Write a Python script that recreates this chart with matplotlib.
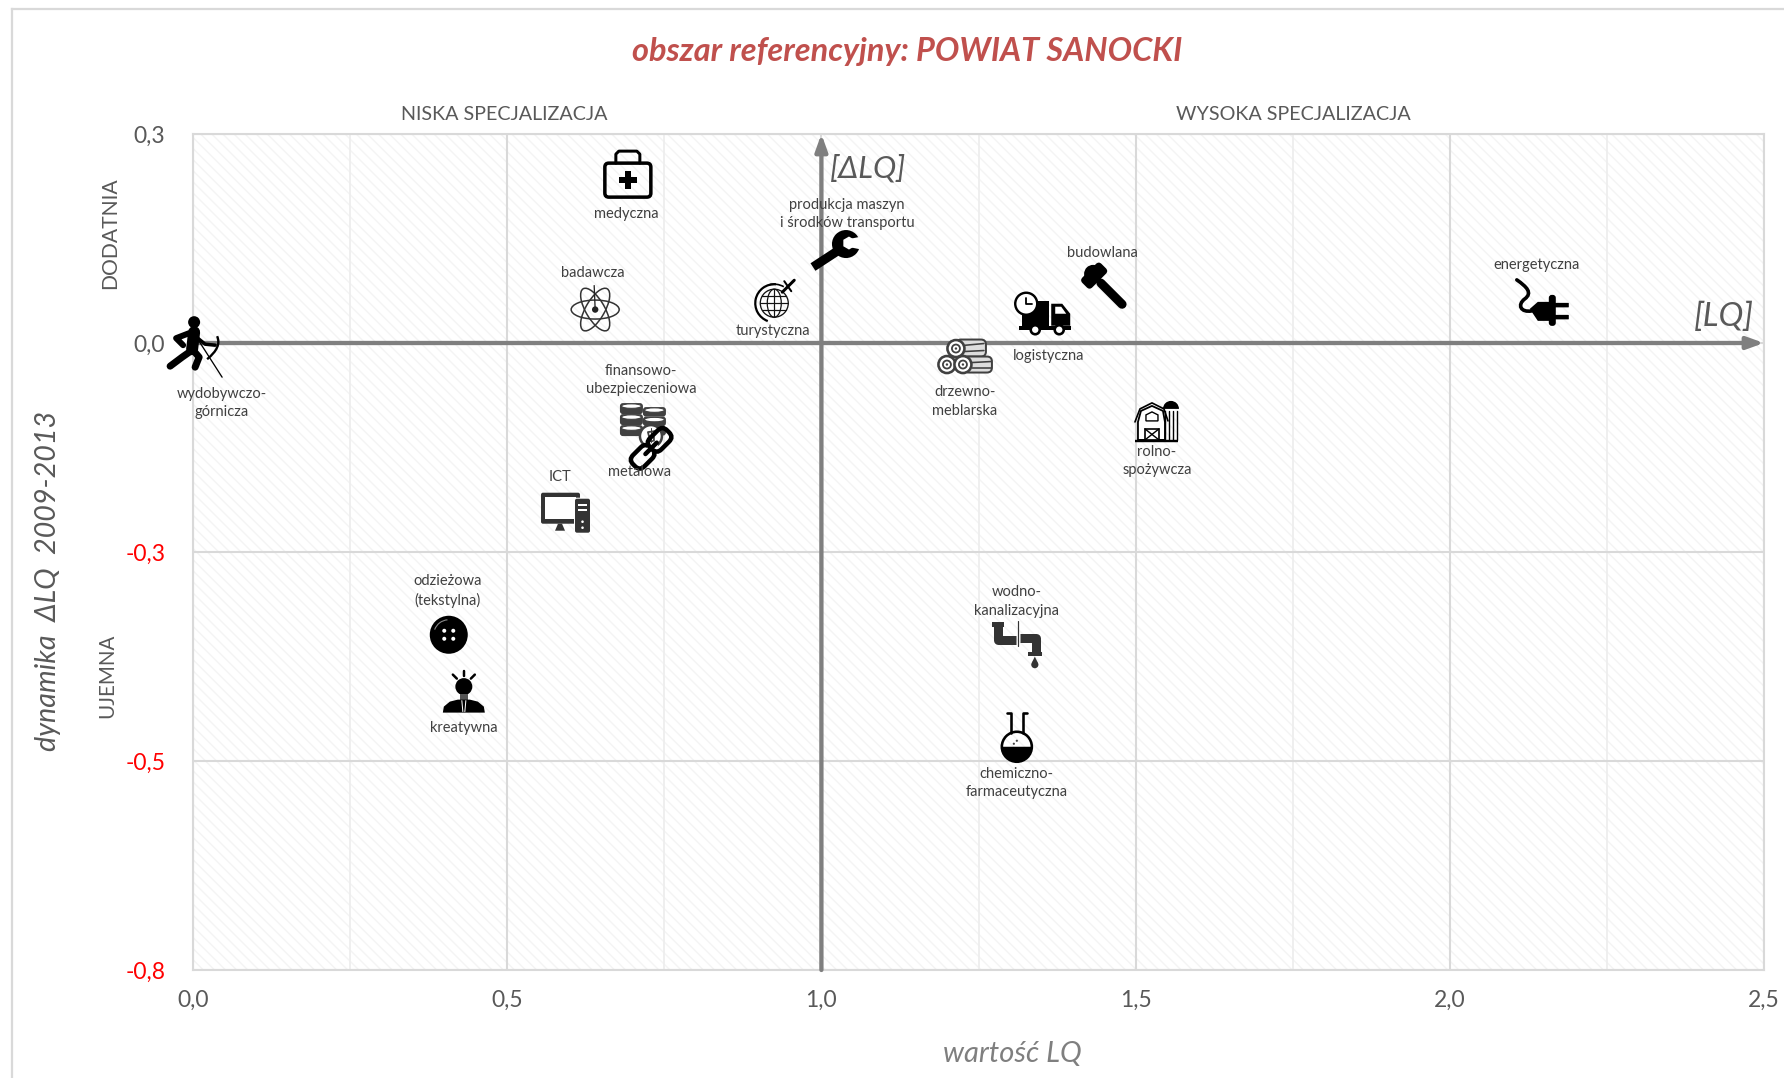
import matplotlib
matplotlib.use('Agg')
import matplotlib.pyplot as plt
from matplotlib.lines import Line2D
from matplotlib.patches import Arc, Circle, Ellipse, FancyBboxPatch, Polygon, RegularPolygon, Wedge
from matplotlib.path import Path
from matplotlib.patches import PathPatch
from matplotlib.transforms import Affine2D, ScaledTranslation

plt.rcParams['font.family'] = ['Lato', 'DejaVu Sans']
plt.rcParams['hatch.linewidth'] = 1.0

# values
names = ['medyczna', 'badawcza', 'maszyny', 'turystyczna', 'budowlana', 'logistyczna', 'drzewno',
         'rolno', 'energetyczna', 'wydobywczo', 'finansowo', 'metalowa', 'ict', 'odziezowa',
         'kreatywna', 'wodno', 'chemiczno']
labels = ['medyczna', 'badawcza', 'produkcja maszyn\ni środków transportu', 'turystyczna', 'budowlana',
          'logistyczna', 'drzewno-\nmeblarska', 'rolno-\nspożywcza', 'energetyczna',
          'wydobywczo-\ngórnicza', 'finansowo-\nubezpieczeniowa', 'metalowa', 'ICT',
          'odzieżowa\n(tekstylna)', 'kreatywna', 'wodno-\nkanalizacyjna', 'chemiczno-\nfarmaceutyczna']
lq = [0.692, 0.640, 1.020, 0.925, 1.447, 1.353, 1.230, 1.534, 2.148,
      -0.003, 0.716, 0.729, 0.592, 0.407, 0.431, 1.311, 1.311]
dlq = [0.202, 0.040, 0.110, 0.050, 0.070, 0.035, -0.015, -0.092, 0.048,
       -0.005, -0.097, -0.126, -0.203, -0.349, -0.417, -0.362, -0.471]
# label offset from the icon, in pixels
label_dx = [-2, -2, 13, -1, 0, 5, -1, 0, -6, 31, -2, -12, -5, -1, 0, 0, 0]
label_dy = [40, -37, -37, 30, -31, 42, 46, 41, -38, 56, -44, 24, -36, -44, 36, -44, 46]

xticks = [0.0, 0.5, 1.0, 1.5, 2.0, 2.5]
xticklabels = ['0,0', '0,5', '1,0', '1,5', '2,0', '2,5']
xminor = [0.25, 0.75, 1.25, 1.75, 2.25]
yticks = [-0.75, -0.5, -0.25, 0.0, 0.25]
yticklabels = ['-0,8', '-0,5', '-0,3', '0,0', '0,3']

W, H = 1784, 1078
dark = '#404040'
grey = '#595959'
axis_grey = '#7f7f7f'

fig = plt.figure(figsize=(W / 100, H / 100), dpi=100)
ax = fig.add_axes([193 / W, 1 - 970 / H, (1764 - 193) / W, (970 - 134) / H])
ax.set_xlim(0, 2.5)
ax.set_ylim(-0.75, 0.25)


def ftext(px, py, s, **kw):
    fig.text(px / W, 1 - py / H, s, ha='center', va='center', **kw)


# outer frame, open at the right and at the bottom
fig.add_artist(Line2D([12 / W, 12 / W], [0, 1 - 9 / H], color='#d9d9d9', lw=1.6))
fig.add_artist(Line2D([12 / W, 1], [1 - 9 / H, 1 - 9 / H], color='#d9d9d9', lw=1.6))

ax.patch.set_facecolor('white')
ax.patch.set_edgecolor('#f4f4f4')
ax.patch.set_hatch('\\\\\\')
ax.patch.set_linewidth(0)
for s in ax.spines.values():
    s.set_color('#d9d9d9')
    s.set_linewidth(1.5)

ax.set_xticks(xticks)
ax.set_xticklabels(xticklabels)
ax.set_xticks(xminor, minor=True)
ax.set_yticks(yticks)
ax.set_yticklabels(yticklabels)
ax.tick_params(axis='both', which='both', length=0)
ax.tick_params(axis='x', labelsize=16.5, labelcolor=grey, pad=14)
ax.tick_params(axis='y', labelsize=16.5, labelcolor=grey, pad=20)
for lab, v in zip(ax.get_yticklabels(), yticks):
    if v < 0:
        lab.set_color('#ff0000')
ax.grid(True, which='major', color='#d9d9d9', lw=1.5, zorder=1)
ax.grid(True, which='minor', axis='x', color='#eeeeee', lw=1.3, zorder=1)
ax.set_axisbelow(True)

# the two axes with arrows, crossing at LQ=1
arrow = dict(arrowstyle='-|>,head_length=1.0,head_width=0.36', color=axis_grey, lw=3.1, shrinkA=0, shrinkB=0)
ax.annotate('', xy=(2.5, 0), xytext=(0, 0), arrowprops=arrow, zorder=3)
ax.annotate('', xy=(1.0, 0.25), xytext=(1.0, -0.75), arrowprops=arrow, zorder=3)


def fill(t, pts, c='black', z=5):
    ax.add_patch(Polygon(pts, closed=True, fc=c, ec='none', transform=t, zorder=z, clip_on=False))


def stroke(t, pts, lw, c='black', z=5, cap='round'):
    xs = [p[0] for p in pts]
    ys = [p[1] for p in pts]
    ax.add_line(Line2D(xs, ys, transform=t, lw=lw * 0.72, color=c, zorder=z, clip_on=False,
                       solid_capstyle=cap, solid_joinstyle='round'))


def disc(t, x, y, r, fc='black', ec='none', lw=0, z=5):
    ax.add_patch(Circle((x, y), r, fc=fc, ec=ec, lw=lw * 0.72, transform=t, zorder=z, clip_on=False))


def box(t, x, y, w, h, r=2, fc='black', ec='none', lw=0, z=5):
    ax.add_patch(FancyBboxPatch((x, y), w, h, boxstyle='round,pad=0,rounding_size=%s' % r, fc=fc, ec=ec,
                                lw=lw * 0.72, transform=t, zorder=z, clip_on=False))


def medyczna(t):
    box(t, -23, -11, 46, 34, r=4, fc='none', ec='black', lw=3.5)
    stroke(t, [(-12, -11), (-12, -20), (-9, -23), (9, -23), (12, -20), (12, -11)], 3)
    fill(t, [(-3, -3), (3, -3), (3, 3), (9, 3), (9, 9), (3, 9), (3, 15), (-3, 15), (-3, 9), (-9, 9), (-9, 3), (-3, 3)])


def badawcza(t):
    for a in (0, 60, 120):
        ax.add_patch(Ellipse((0, 0), 48, 19, angle=a, fc='none', ec='#333333', lw=1.1, transform=t,
                             zorder=5, clip_on=False))
    disc(t, 0, 0, 3.2, fc='#222222')
    stroke(t, [(0, 0), (-1, -24)], 1.3, c='#222222')


def maszyny(t):
    stroke(t, [(-21, 16), (5, -1)], 9, cap='butt')
    disc(t, 12, -7, 14)
    ax.add_patch(RegularPolygon((15, -8), 6, radius=6.5, fc='white', transform=t, zorder=5, clip_on=False))
    fill(t, [(15, -12), (30, -15), (30, -1), (15, -4)], c='white')


def turystyczna(t):
    disc(t, 0, 2, 14, fc='none', ec='#111111', lw=1.3)
    ax.add_patch(Ellipse((0, 2), 14, 28, fc='none', ec='#111111', lw=0.9, transform=t, zorder=5, clip_on=False))
    stroke(t, [(0, -12), (0, 16)], 1.2, c='#111111')
    stroke(t, [(-14, 2), (14, 2)], 1.2, c='#111111')
    stroke(t, [(-12, -5), (12, -5)], 1.2, c='#111111')
    stroke(t, [(-12, 9), (12, 9)], 1.2, c='#111111')
    ax.add_patch(Arc((0, 2), 38, 38, theta1=110, theta2=275, ec='black', lw=1.6, transform=t, zorder=5,
                     clip_on=False))
    ax.add_patch(Arc((0, 2), 38, 38, theta1=255, theta2=300, ec='black', lw=1.2, transform=t, zorder=5,
                     clip_on=False))
    stroke(t, [(8, -9), (20, -21)], 3)
    stroke(t, [(10, -20), (17, -10)], 2)


def budowlana(t):
    r = Affine2D().rotate_deg(45) + t
    stroke(r, [(-2, 0), (28, 0)], 9)
    box(r, -19, -14, 14, 27, r=4)
    disc(r, -14, -1, 9)


def logistyczna(t):
    fill(t, [(-21, -13), (6, -13), (6, 12), (-21, 12)])
    fill(t, [(8, -10), (19, -10), (27, 0), (27, 12), (8, 12)])
    fill(t, [(12, -7), (18, -7), (23, 0), (12, 0)], c='white')
    fill(t, [(-24, 12), (28, 12), (28, 16), (-24, 16)])
    disc(t, -17, -10, 11, fc='white', ec='black', lw=2.4)
    stroke(t, [(-17, -16), (-17, -10), (-11, -10)], 1.8)
    for wx in (-8, 16):
        disc(t, wx, 16, 4.5, fc='white', ec='black', lw=2.6)


def drzewno(t):
    box(t, -10, -16, 30, 17, r=5, fc='#dddddd', ec=dark, lw=2)
    box(t, -2, 1, 28, 16, r=5, fc='#dddddd', ec=dark, lw=2)
    stroke(t, [(-4, -10), (18, -12)], 1.6, c=dark)
    stroke(t, [(-2, -4), (18, -5)], 1.6, c=dark)
    stroke(t, [(6, 7), (25, 6)], 1.6, c=dark)
    stroke(t, [(6, 12), (25, 12)], 1.6, c=dark)
    for cx, cy in ((-10, -7), (-19, 9), (-3, 9)):
        disc(t, cx, cy, 8.5, fc='white', ec=dark, lw=2.6)
        disc(t, cx, cy, 4, fc='white', ec=dark, lw=1.8)
        disc(t, cx, cy, 1.2, fc=dark)


def rolno(t):
    ax.add_patch(Polygon([(-19, 2), (-16, -9), (-5, -14), (6, -9), (8, 2), (8, 20), (-19, 20)], closed=True,
                         fc='white', ec='black', lw=1.3, transform=t, zorder=5, clip_on=False))
    stroke(t, [(-22, 2), (-17, -11), (-5, -17), (7, -11), (11, 1)], 1.7)
    ax.add_patch(Polygon([(-11, 1), (-11, -5), (-5, -8), (1, -5), (1, 1)], closed=True, fc='none', ec='black',
                         lw=1, transform=t, zorder=5, clip_on=False))
    fill(t, [(-12, 9), (2, 9), (2, 20), (-12, 20)], c='white')
    ax.add_patch(Polygon([(-12, 9), (2, 9), (2, 20), (-12, 20)], closed=True, fc='none', ec='black', lw=1.2,
                         transform=t, zorder=5, clip_on=False))
    stroke(t, [(-12, 9), (2, 20)], 1.4)
    stroke(t, [(2, 9), (-12, 20)], 1.4)
    for sx in (8, 12, 16, 20):
        stroke(t, [(sx, -9), (sx, 20)], 1.4)
    ax.add_patch(Wedge((14, -11), 8, 180, 360, fc='black', transform=t, zorder=5, clip_on=False))
    stroke(t, [(-22, 21), (21, 21)], 2.4, cap='butt')


def energetyczna(t):
    verts = [(-26, -23), (-16, -16), (-10, -10), (-18, -4), (-26, 2), (-22, 10), (-11, 8)]
    codes = [Path.MOVETO, Path.CURVE4, Path.CURVE4, Path.CURVE4, Path.CURVE4, Path.CURVE4, Path.CURVE4]
    ax.add_patch(PathPatch(Path(verts, codes), fc='none', ec='black', lw=2.6, capstyle='round', transform=t,
                           zorder=5, clip_on=False))
    fill(t, [(-13, 6), (-5, -1), (7, -1), (7, 18), (-5, 18)])
    box(t, 6, -8, 7, 31, r=3)
    box(t, 12, 0, 14, 4.5, r=0.5)
    box(t, 12, 12, 14, 4.5, r=0.5)


def wydobywczo(t):
    disc(t, 3, -25, 6)
    stroke(t, [(3, -15), (1, 2)], 12)
    stroke(t, [(-2, -14), (-15, -9), (-8, -2)], 6)
    stroke(t, [(1, 3), (-9, 10), (-21, 19)], 7)
    stroke(t, [(2, 3), (8, 10), (4, 20)], 7)
    stroke(t, [(3, -12), (14, -3), (24, -2)], 3.5)
    stroke(t, [(6, -9), (31, 30)], 1.3)
    verts = [(26, -11), (31, 0), (16, 12)]
    ax.add_patch(PathPatch(Path(verts, [Path.MOVETO, Path.CURVE3, Path.CURVE3]), fc='none', ec='black', lw=1.7,
                           transform=t, zorder=5, clip_on=False))


def finansowo(t):
    for sx, top, n, step in ((-23, -21, 3, 11), (0, -17, 3, 9.5)):
        for i in range(n - 1, -1, -1):
            yy = top + i * step
            box(t, sx, yy, 23, step, r=3, fc=dark)
            ax.add_patch(Ellipse((sx + 11.5, yy + 3), 20, 4.5, fc='white', ec=dark, lw=0.8, transform=t, zorder=5,
                                 clip_on=False))
    disc(t, 8, 12, 11, fc='white', ec=dark, lw=2.5)
    stroke(t, [(12, 7), (5, 8), (6, 12), (11, 13), (11, 17), (4, 17)], 1.8, c=dark)
    stroke(t, [(8, 4), (8, 20)], 1, c=dark)


def metalowa(t):
    # two separate links with a gap between their inner ends
    r = Affine2D().rotate_deg(-45) + t
    box(r, -24, -8, 24, 16, r=6.5, fc='none', ec='black', lw=4.5)
    box(r, -8, -3.5, 16, 7, r=3, fc='white', ec='none')
    box(r, 0, -8, 24, 16, r=6.5, fc='none', ec='black', lw=4.5)
    stroke(r, [(-8, 0), (8, 0)], 4.5)


def ict(t):
    box(t, -24, -20, 39, 31, r=2, fc='#333333')
    fill(t, [(-20, -16), (11, -16), (11, 6), (-20, 6)], c='white')
    fill(t, [(-7, 11), (-3, 11), (0, 18), (-10, 18)], c='#333333')
    box(t, 9, -15, 17, 36, r=2, fc='white')
    box(t, 10, -14, 15, 34, r=2, fc='#333333')
    fill(t, [(13, -9), (22, -9), (22, -7), (13, -7)], c='white')
    fill(t, [(13, -4), (22, -4), (22, -2), (13, -2)], c='white')
    disc(t, 17.5, 9, 1.3, fc='white')
    disc(t, 17.5, 15, 1.3, fc='white')


def odziezowa(t):
    disc(t, 0, 0, 19, fc='black')
    for dx, dy in ((-4.5, -4), (4.5, -4), (-4.5, 4), (4.5, 4)):
        disc(t, dx, dy, 2, fc='white')
    ax.add_patch(Arc((0, 0), 30, 30, theta1=200, theta2=265, ec='#888888', lw=0.8, transform=t, zorder=5,
                     clip_on=False))


def kreatywna(t):
    disc(t, 0, -5, 8.5)
    fill(t, [(-4, 2), (4, 2), (4, 8), (-4, 8)], c='#555555')
    stroke(t, [(0, -21), (0, -16)], 2.5)
    stroke(t, [(-11, -17), (-7, -13)], 2.5)
    stroke(t, [(11, -17), (7, -13)], 2.5)
    fill(t, [(-21, 21), (-20, 15), (-14, 10), (-6, 8), (6, 8), (14, 10), (20, 15), (21, 21)])
    stroke(t, [(-2, 9), (-1, 20)], 1, c='white')
    stroke(t, [(2, 9), (1, 20)], 1, c='white')


def wodno(t):
    c = '#333333'
    stroke(t, [(-19, -20), (-19, -6), (-1, -6)], 9, c=c, cap='butt')
    stroke(t, [(3, -8), (19, -8), (19, 7)], 9, c=c, cap='butt')
    fill(t, [(-25, -24), (-13, -24), (-13, -19), (-25, -19)], c=c)
    fill(t, [(11, 6), (25, 6), (25, 10), (11, 10)], c=c)
    stroke(t, [(1, -25), (1, 0)], 1.2, c=c)
    disc(t, 18, 19, 3.6, fc=c)
    fill(t, [(15, 17), (18, 11), (21, 17)], c=c)


def chemiczno(t):
    ax.add_patch(Wedge((0, 10), 15, 0, 180, fc='black', transform=t, zorder=5, clip_on=False))
    disc(t, 0, 10, 15, fc='none', ec='black', lw=2.6)
    stroke(t, [(-10, -24), (-6, -24), (-6, -4)], 2.6)
    stroke(t, [(10, -24), (6, -24), (6, -4)], 2.6)
    disc(t, 0, 4, 1.1, fc='#444444')
    disc(t, -3, 7, 1.1, fc='#444444')


icons = dict(medyczna=medyczna, badawcza=badawcza, maszyny=maszyny, turystyczna=turystyczna,
             budowlana=budowlana, logistyczna=logistyczna, drzewno=drzewno, rolno=rolno,
             energetyczna=energetyczna, wydobywczo=wydobywczo, finansowo=finansowo, metalowa=metalowa,
             ict=ict, odziezowa=odziezowa, kreatywna=kreatywna, wodno=wodno, chemiczno=chemiczno)

for n, lab, x, y, dx, dy in zip(names, labels, lq, dlq, label_dx, label_dy):
    # icon units are pixels, y pointing down, origin at the data point
    t = Affine2D().scale(1, -1) + ScaledTranslation(x, y, ax.transData)
    icons[n](t)
    ax.annotate(lab, xy=(x, y), xytext=(dx * 0.72, -dy * 0.72), textcoords='offset points', ha='center',
                va='center', fontsize=10.5, color=dark, linespacing=1.4, zorder=6, annotation_clip=False)

ftext(907, 51, 'obszar referencyjny: POWIAT SANOCKI', fontsize=23.4, color='#c0504d', fontweight='bold',
      fontstyle='italic')
ftext(504, 115, 'NISKA SPECJALIZACJA', fontsize=14.2, color=grey)
ftext(1293, 115, 'WYSOKA SPECJALIZACJA', fontsize=14.2, color=grey)
ftext(110, 233, 'DODATNIA', fontsize=15.2, color=grey, rotation=90)
ftext(107, 676, 'UJEMNA', fontsize=14.8, color=grey, rotation=90)
ftext(48, 581, 'dynamika  ΔLQ  2009-2013', fontsize=20.7, color=grey, fontstyle='italic', rotation=90)
ftext(1012, 1054, 'wartość LQ', fontsize=21, color=axis_grey, fontstyle='italic')
ftext(1724, 317, '[LQ]', fontsize=24, color=grey, fontstyle='italic')
ftext(868, 168, '[ΔLQ]', fontsize=22.5, color=grey, fontstyle='italic')

fig.savefig('out.png', dpi=100)
